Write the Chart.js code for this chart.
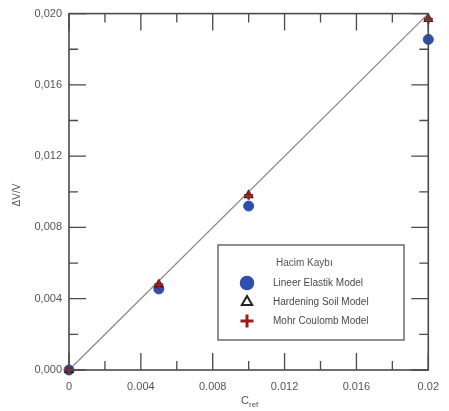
<!DOCTYPE html>
<html>
<head>
<meta charset="utf-8">
<script src="https://cdn.jsdelivr.net/npm/chart.js@4"></script>
<style>
  html, body { margin: 0; padding: 0; background: #fff; }
  #wrap { width: 449px; height: 411px; }
</style>
</head>
<body>
<div id="wrap"><canvas id="volumeChart"></canvas></div>
<script>
// Hacim kaybı - Cref karşılaştırması
const cRef = [0, 0.005, 0.01, 0.02];
const linearElastic = [0, 0.00455, 0.0092, 0.01855];
const hardeningSoil = [0, 0.0048, 0.0098, 0.0197];
const mohrCoulomb = [0, 0.0048, 0.0098, 0.0197];
const lineX = [0, 0.02];
const lineY = [0, 0.02];

const xMajorTicks = [0, 0.004, 0.008, 0.012, 0.016, 0.02];
const yMajorTicks = [0, 0.004, 0.008, 0.012, 0.016, 0.02];
const minorTicks = [0.002, 0.006, 0.01, 0.014, 0.018];
const legendTitle = 'Hacim Kaybı';
const seriesNames = ['Lineer Elastik Model', 'Hardening Soil Model', 'Mohr Coulomb Model'];

const FONT = 'Liberation Sans, Arial, sans-serif';
const TEXT = '#555';

function toPoints(xs, ys) {
    return xs.map((x, i) => ({ x: x, y: ys[i] }));
}

// çerçeve, iç çentikler, eksen başlıkları ve gösterge
const framePlugin = {
    id: 'frame',
    afterDatasetsDraw(chart) {
        const ctx = chart.ctx;
        const a = chart.chartArea;
        const xs = chart.scales.x, ys = chart.scales.y;
        ctx.save();
        ctx.strokeStyle = '#4a4a4a';
        ctx.lineWidth = 1.6;
        ctx.strokeRect(a.left, a.top, a.right - a.left, a.bottom - a.top);

        function tick(pos, len, vertical) {
            ctx.beginPath();
            if (vertical) {
                ctx.moveTo(pos, a.bottom); ctx.lineTo(pos, a.bottom - len);
                ctx.moveTo(pos, a.top); ctx.lineTo(pos, a.top + len);
            } else {
                ctx.moveTo(a.left, pos); ctx.lineTo(a.left + len, pos);
                ctx.moveTo(a.right, pos); ctx.lineTo(a.right - len, pos);
            }
            ctx.stroke();
        }
        ctx.lineWidth = 1.3;
        xMajorTicks.forEach(v => tick(xs.getPixelForValue(v), 17, true));
        yMajorTicks.forEach(v => tick(ys.getPixelForValue(v), 17, false));
        minorTicks.forEach(v => {
            tick(xs.getPixelForValue(v), 9, true);
            tick(ys.getPixelForValue(v), 9, false);
        });

        // eksen başlıkları
        ctx.fillStyle = TEXT;
        ctx.font = '11px ' + FONT;
        ctx.textBaseline = 'alphabetic';
        ctx.textAlign = 'left';
        ctx.fillText('C', 241, 404);
        ctx.font = '8px ' + FONT;
        ctx.fillText('ref', 249, 407);

        ctx.save();
        ctx.translate(20, 195);
        ctx.rotate(-Math.PI / 2);
        ctx.textAlign = 'center';
        ctx.font = '10px ' + FONT;
        ctx.fillText('ΔV/V', 0, 0);
        ctx.restore();

        // gösterge kutusu
        const lx = 218, ly = 245, lw = 186, lh = 95;
        ctx.fillStyle = '#fff';
        ctx.fillRect(lx, ly, lw, lh);
        ctx.strokeStyle = '#6a6a6a';
        ctx.lineWidth = 1.5;
        ctx.strokeRect(lx, ly, lw, lh);

        ctx.fillStyle = TEXT;
        ctx.font = '10px ' + FONT;
        ctx.textAlign = 'left';
        ctx.textBaseline = 'middle';
        ctx.fillText(legendTitle, 276, 263);

        const rowY = [283, 302, 321];
        const legendRadius = [6.5, 6, 6.5];
        chart.data.datasets.slice(0, 3).forEach((ds, i) => {
            ctx.save();
            ctx.fillStyle = ds.pointBackgroundColor;
            ctx.strokeStyle = ds.pointBorderColor;
            ctx.lineWidth = ds.pointBorderWidth + 0.5;
            Chart.helpers.drawPoint(ctx, {
                pointStyle: ds.pointStyle,
                radius: legendRadius[i],
                rotation: 0,
                borderWidth: ds.pointBorderWidth + 0.5
            }, 247, rowY[i]);
            ctx.restore();
            ctx.fillStyle = '#4a4a4a';
            ctx.font = '10px ' + FONT;
            ctx.fillText(seriesNames[i], 273, rowY[i]);
        });
        ctx.restore();
    }
};

new Chart(document.getElementById('volumeChart'), {
    type: 'scatter',
    data: {
        datasets: [
            {
                label: seriesNames[0],
                data: toPoints(cRef, linearElastic),
                pointStyle: 'circle',
                pointRadius: 5,
                pointBackgroundColor: '#2f4fb0',
                pointBorderColor: '#2f4fb0',
                pointBorderWidth: 1,
                order: 3
            },
            {
                label: seriesNames[1],
                data: toPoints(cRef, hardeningSoil),
                pointStyle: 'triangle',
                pointRadius: 4.5,
                pointBackgroundColor: 'rgba(0,0,0,0)',
                pointBorderColor: '#222',
                pointBorderWidth: 1.5,
                order: 2
            },
            {
                label: seriesNames[2],
                data: toPoints(cRef, mohrCoulomb),
                pointStyle: 'cross',
                pointRadius: 4.5,
                pointBackgroundColor: '#a01c1c',
                pointBorderColor: '#a01c1c',
                pointBorderWidth: 2.5,
                order: 1
            },
            {
                label: 'y = x',
                type: 'line',
                data: toPoints(lineX, lineY),
                borderColor: '#8a8a8a',
                borderWidth: 1.3,
                pointRadius: 0,
                order: 4
            }
        ]
    },
    options: {
        responsive: true,
        maintainAspectRatio: false,
        animation: false,
        clip: false,
        layout: { padding: { left: 0, top: 10, right: 19, bottom: 0 } },
        plugins: {
            legend: { display: false },
            tooltip: { enabled: false }
        },
        scales: {
            x: {
                type: 'linear',
                min: 0,
                max: 0.02,
                afterBuildTicks: scale => { scale.ticks = xMajorTicks.map(v => ({ value: v })); },
                afterFit: scale => { scale.height = 41; },
                ticks: {
                    color: TEXT,
                    font: { family: FONT, size: 11 },
                    padding: 10,
                    maxRotation: 0,
                    callback: v => (v === 0 ? '0' : v === 0.02 ? '0.02' : v.toFixed(3))
                },
                grid: { display: false, drawTicks: false },
                border: { display: false }
            },
            y: {
                type: 'linear',
                min: 0,
                max: 0.02,
                afterBuildTicks: scale => { scale.ticks = yMajorTicks.map(v => ({ value: v })); },
                afterFit: scale => { scale.width = 69; },
                ticks: {
                    color: TEXT,
                    font: { family: FONT, size: 11 },
                    padding: 7,
                    callback: v => v.toFixed(3).replace('.', ',')
                },
                grid: { display: false, drawTicks: false },
                border: { display: false }
            }
        }
    },
    plugins: [framePlugin]
});
</script>
</body>
</html>
